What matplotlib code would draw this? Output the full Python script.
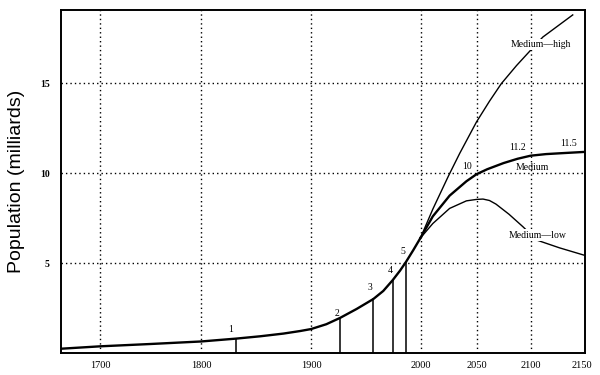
import matplotlib.pyplot as plt
import numpy as np

# world population, milliards
hist_years = [1662, 1700, 1750, 1800, 1832, 1854, 1875, 1890, 1900, 1914,
              1926.5, 1941.7, 1950, 1956.9, 1966, 1974.6, 1981.3, 1986.8,
              1993.4, 2000]
hist_pop = [0.24, 0.37, 0.5, 0.64, 0.8, 0.93, 1.08, 1.22, 1.33, 1.6,
            1.95, 2.45, 2.75, 3.0, 3.45, 4.05, 4.58, 5.07,
            5.72, 6.4]

med_years = [2000, 2011, 2026, 2041, 2050, 2060, 2075, 2088, 2100, 2115, 2130, 2152]
medium = [6.4, 7.6, 8.75, 9.55, 9.94, 10.22, 10.56, 10.8, 10.97, 11.06, 11.11, 11.18]

high_years = [2000, 2011, 2025, 2035, 2050, 2062, 2073, 2087, 2100, 2112, 2141]
medium_high = [6.4, 8.0, 9.85, 11.1, 12.85, 14.0, 14.98, 15.98, 16.83, 17.57, 18.8]

low_years = [2000, 2011, 2026, 2041, 2050, 2056, 2062, 2068, 2080, 2093, 2106,
             2128, 2152]
medium_low = [6.4, 7.2, 8.04, 8.46, 8.54, 8.56, 8.48, 8.28, 7.72, 7.02, 6.28,
              5.85, 5.44]

# years at which 1..5 milliards were reached, with the marker heights
mark_years = [1832, 1926.5, 1956.9, 1974.6, 1986.8]
mark_heights = [0.8, 1.95, 3.0, 4.05, 5.07]
mark_labels = ["1", "2", "3", "4", "5"]

x_ticks = [1700, 1800, 1900, 2000, 2050, 2100, 2150]
y_ticks = [5, 10, 15]

serif = "Liberation Serif"

# the original time axis is not evenly spaced (older centuries squeezed a bit)
knot_years = np.array([1500, 1700, 1800, 1900, 2000, 2050, 2100, 2150, 2300])
knot_pos = np.array([-101.0, 100, 201, 311, 420.5, 476.5, 530.5, 582, 736.5])


def fwd(y):
    return np.interp(y, knot_years, knot_pos)


def inv(p):
    return np.interp(p, knot_pos, knot_years)


fig = plt.figure(figsize=(6, 3.75), dpi=100)
ax = fig.add_axes([0.1017, 0.0587, 0.8733, 0.914])

ax.set_xscale("function", functions=(fwd, inv))
ax.set_xlim(inv(61), inv(585))
ax.set_ylim(0, 19.06)

# dotted grid
for x in x_ticks[:-1]:
    ax.axvline(x, color="black", lw=1.0, linestyle=(0, (1, 2.2)), zorder=1)
for y in y_ticks:
    ax.axhline(y, color="black", lw=1.0, linestyle=(0, (1, 2.2)), zorder=1)

ax.plot(hist_years, hist_pop, color="black", lw=1.7, zorder=3,
        solid_joinstyle="round")
ax.plot(med_years, medium, color="black", lw=1.7, zorder=3,
        solid_joinstyle="round")
ax.plot(high_years, medium_high, color="black", lw=1.0, zorder=3)
ax.plot(low_years, medium_low, color="black", lw=1.0, zorder=3)

for yr, h in zip(mark_years, mark_heights):
    ax.plot([yr, yr], [0, h], color="black", lw=1.1, zorder=3)

# number labels next to the markers
label_pos = [(1827.3, 1.28), (1923.7, 2.22), (1953.9, 3.64), (1972.1, 4.58), (1984, 5.64)]
for (lx, ly), txt in zip(label_pos, mark_labels):
    ax.text(lx, ly, txt, family=serif, fontsize=7, ha="center", va="center", zorder=4)

ax.text(2041.2, 10.35, "10", family=serif, fontsize=7, ha="center", va="center", zorder=4)
ax.text(2087.5, 11.44, "11.2", family=serif, fontsize=7, ha="center", va="center", zorder=4)
ax.text(2136.9, 11.67, "11.5", family=serif, fontsize=7, ha="center", va="center", zorder=4)
ax.text(2101.4, 10.31, "Medium", family=serif, fontsize=7, ha="center", va="center", zorder=4)

box = dict(facecolor="white", edgecolor="none", pad=0.8)
ax.text(2110.5, 17.15, "Medium\u2014high", family=serif, fontsize=7, ha="center",
        va="center", bbox=box, zorder=4)
ax.text(2107.2, 6.56, "Medium\u2014low", family=serif, fontsize=7, ha="center",
        va="center", bbox=box, zorder=4)

ax.set_xticks(x_ticks)
ax.set_xticklabels([str(v) for v in x_ticks], family=serif, fontsize=7.5)
ax.xaxis.set_minor_locator(plt.NullLocator())
ax.set_yticks(y_ticks)
ax.set_yticklabels([str(v) for v in y_ticks], family=serif, fontsize=7, fontweight="bold")
ax.tick_params(length=0, pad=8)
ax.tick_params(axis="x", pad=6)

for s in ax.spines.values():
    s.set_linewidth(1.4)

ax.set_ylabel("Population (milliards)", family="Liberation Sans", fontsize=14)
ax.yaxis.set_label_coords(-0.068, 0.5)

fig.savefig("out.png", dpi=100)
